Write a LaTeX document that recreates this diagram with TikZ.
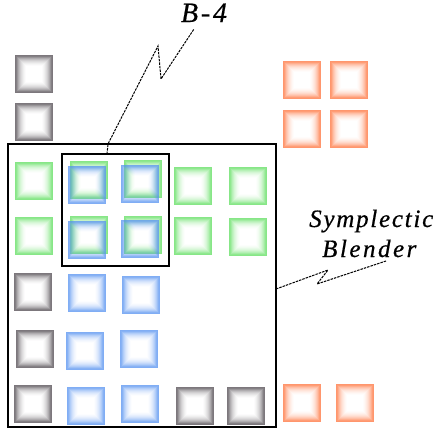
\documentclass[tikz,border=0pt]{standalone}
\usepackage{fontspec}
\setmainfont{Liberation Serif}
\definecolor{sqgray}{RGB}{80,74,80}
\definecolor{sqgreen}{RGB}{95,222,95}
\definecolor{sqblue}{RGB}{85,145,240}
\definecolor{sqorange}{RGB}{255,115,60}
\tikzset{
  soft/.style={minimum size=38pt, inner sep=0pt, outer sep=0pt, draw=none,
    path picture={
      \foreach \i/\o in {0.5/0.75,1.5/0.7,2.5/0.58,3.5/0.46,4.5/0.36,5.5/0.27,6.5/0.2,7.5/0.14,8.5/0.09,9.5/0.05,10.5/0.02}{
        \draw[#1, line width=1pt, opacity=\o]
          ([shift={(\i pt,\i pt)}]path picture bounding box.south west) rectangle
          ([shift={(-\i pt,-\i pt)}]path picture bounding box.north east);
      }}},
  frame/.style={draw=black, line width=1.3pt, inner sep=0pt, outer sep=0pt, fill=none},
  bolt/.style={draw=black, line width=1pt, dash pattern=on 2.5pt off 1pt},
  lab/.style={inner sep=0pt}
}
\begin{document}
\begin{tikzpicture}[x=1pt,y=-1pt]
\useasboundingbox (0,0) rectangle (438,434);
% gray column top
\node[soft=sqgray] (g1) at (34,74) {};
\node[soft=sqgray] (g2) at (34,122) {};
% orange top
\node[soft=sqorange] (o1) at (302,80) {};
\node[soft=sqorange] (o2) at (349,80) {};
\node[soft=sqorange] (o3) at (302,129) {};
\node[soft=sqorange] (o4) at (349,129) {};
% row 1
\node[soft=sqgreen] (r1a) at (34,181) {};
\node[soft=sqgreen] (r1b) at (89,180) {};
\node[soft=sqblue]  (r1bb) at (87,185) {};
\node[soft=sqgreen] (r1c) at (143,179) {};
\node[soft=sqblue]  (r1cb) at (140,184) {};
\node[soft=sqgreen] (r1d) at (193,186) {};
\node[soft=sqgreen] (r1e) at (248,186) {};
% row 2
\node[soft=sqgreen] (r2a) at (34,236) {};
\node[soft=sqgreen] (r2b) at (89,235) {};
\node[soft=sqblue]  (r2bb) at (87,240) {};
\node[soft=sqgreen] (r2c) at (143,235) {};
\node[soft=sqblue]  (r2cb) at (140,239) {};
\node[soft=sqgreen] (r2d) at (193,236) {};
\node[soft=sqgreen] (r2e) at (248,237) {};
% row 3
\node[soft=sqgray] (r3a) at (33,292) {};
\node[soft=sqblue] (r3b) at (87,293) {};
\node[soft=sqblue] (r3c) at (141,295) {};
% row 4
\node[soft=sqgray] (r4a) at (35,349) {};
\node[soft=sqblue] (r4b) at (85,351) {};
\node[soft=sqblue] (r4c) at (139,349) {};
% row 5
\node[soft=sqgray] (r5a) at (33,404) {};
\node[soft=sqblue] (r5b) at (86,406) {};
\node[soft=sqblue] (r5c) at (140,404) {};
\node[soft=sqgray] (r5d) at (195,406) {};
\node[soft=sqgray] (r5e) at (246,406) {};
\node[soft=sqorange] (r5f) at (302,403) {};
\node[soft=sqorange] (r5g) at (355,403) {};
% frames
\node[frame, minimum width=268pt, minimum height=283pt] (big) at (142,285.5) {};
\node[frame, minimum width=107pt, minimum height=112pt] (b4) at (115.5,210) {};
% labels
\node[lab, font=\fontsize{28}{30}\selectfont\itshape\addfontfeatures{LetterSpace=10,FakeBold=0.6}, anchor=base] (lb4) at (204,22) {B-4};
\node[lab, font=\fontsize{25}{27}\selectfont\itshape\addfontfeatures{LetterSpace=7,FakeBold=0.6}, anchor=base west] (lsym) at (309,227) {Symplectic};
\node[lab, font=\fontsize{25}{27}\selectfont\itshape\addfontfeatures{LetterSpace=10,FakeBold=0.6}, anchor=base west] (lbl) at (322,257) {Blender};
% connectors
\coordinate (p1) at (108,144);
\coordinate (p2) at (158,46);
\coordinate (p3) at (161,79);
\coordinate (p4) at (194,29);
\draw[bolt] ([xshift=-8.5pt]b4.north) -- (p1) -- (p2) -- (p3) -- (p4);
\coordinate (q1) at (328,270);
\coordinate (q2) at (317,284);
\coordinate (q3) at (386,261);
\draw[bolt] ([yshift=-3.5pt]big.east) -- (q1) -- (q2) -- (q3);
\end{tikzpicture}
\end{document}
